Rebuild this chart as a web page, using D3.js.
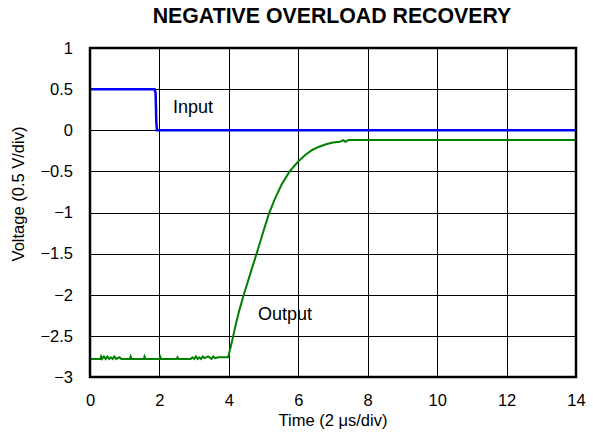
<!DOCTYPE html>
<html>
<head>
<meta charset="utf-8">
<script src="https://cdn.jsdelivr.net/npm/d3@7"></script>
<style>
  body { margin: 0; background: #fff; }
  svg { font-family: "Liberation Sans", Arial, sans-serif; }
  .grid line { stroke: #000; stroke-width: 1; shape-rendering: crispEdges; }
  .tick text { fill: #000; }
</style>
</head>
<body>
<div id="chart"></div>
<script>
// tick values shown on the axes
const X_TICKS = [0, 2, 4, 6, 8, 10, 12, 14];
const Y_TICKS = [1, 0.5, 0, -0.5, -1, -1.5, -2, -2.5, -3];

// input step (time, volts)
const inputT = [0, 1.86, 1.89, 1.91, 1.93, 14];
const inputV = [0.5, 0.5, 0.45, 0.1, 0, 0];

// output recovery (time, volts)
const outputT = [0, 0.3, 0.32, 0.35, 0.4, 0.45, 0.5, 0.55, 0.6, 0.65, 0.7, 0.75, 0.85, 0.9,
  1.15, 1.17, 1.2, 1.55, 1.57, 1.6, 2.0, 2.02, 2.05, 2.5, 2.52, 2.55, 2.9, 2.95, 3.0, 3.05,
  3.1, 3.15, 3.2, 3.25, 3.3, 3.4, 3.5, 3.55, 3.6, 3.7, 3.8, 3.9, 3.98,
  4.1, 4.2, 4.3, 4.43, 4.62, 4.8, 4.98, 5.15, 5.32, 5.52, 5.75, 6.0, 6.2, 6.4, 6.6, 6.8, 7.0,
  7.2, 7.3, 7.35, 7.45, 14];
const outputV = [-2.78, -2.78, -2.75, -2.78, -2.75, -2.78, -2.75, -2.78, -2.76, -2.78, -2.75, -2.78, -2.76, -2.78,
  -2.78, -2.75, -2.78, -2.78, -2.75, -2.78, -2.78, -2.75, -2.78, -2.78, -2.76, -2.78, -2.78, -2.76, -2.78, -2.75,
  -2.78, -2.76, -2.78, -2.75, -2.77, -2.75, -2.78, -2.75, -2.77, -2.76, -2.76, -2.76, -2.76,
  -2.55, -2.36, -2.19, -2.0, -1.74, -1.5, -1.25, -1.02, -0.84, -0.66, -0.5, -0.38, -0.3, -0.24, -0.2, -0.17, -0.15,
  -0.14, -0.12, -0.14, -0.12, -0.12];

const W = 593, H = 445;
const margin = {top: 48, right: 17, bottom: 68, left: 90};
const iw = W - margin.left - margin.right;
const ih = H - margin.top - margin.bottom;

const svg = d3.select("#chart").append("svg")
    .attr("width", W)
    .attr("height", H);

const x = d3.scaleLinear().domain([0, 14]).range([0, iw]);
const y = d3.scaleLinear().domain([-3, 1]).range([ih, 0]);
const fmt = (d) => (d < 0 ? "\u2212" + Math.abs(d) : String(d));

const g = svg.append("g").attr("transform", "translate(" + margin.left + "," + margin.top + ")");

// grid
const grid = g.append("g").classed("grid", true);
grid.selectAll("line.v")
    .data(X_TICKS.slice(1, -1))
    .enter().append("line")
    .attr("x1", (d) => Math.round(x(d)) + 0.5).attr("x2", (d) => Math.round(x(d)) + 0.5)
    .attr("y1", 0).attr("y2", ih);
grid.selectAll("line.h")
    .data(Y_TICKS.slice(1, -1))
    .enter().append("line")
    .attr("y1", (d) => Math.round(y(d)) + 0.5).attr("y2", (d) => Math.round(y(d)) + 0.5)
    .attr("x1", 0).attr("x2", iw);

// axes (labels only)
g.append("g")
    .attr("transform", "translate(0," + ih + ")")
    .call(d3.axisBottom(x).tickValues(X_TICKS).tickSize(0).tickPadding(17).tickFormat(fmt))
    .call((a) => a.select(".domain").remove())
    .selectAll("text").style("font-size", "16.5px");
g.append("g")
    .call(d3.axisLeft(y).tickValues(Y_TICKS).tickSize(0).tickPadding(17).tickFormat(fmt))
    .call((a) => a.select(".domain").remove())
    .selectAll("text").style("font-size", "16.5px");

// traces
const line = d3.line().x((d) => x(d[0])).y((d) => y(d[1]));
g.append("path")
    .datum(inputT.map((t, i) => [t, inputV[i]]))
    .attr("fill", "none").attr("stroke", "#0000ff").attr("stroke-width", 2.5)
    .attr("d", line);
g.append("path")
    .datum(outputT.map((t, i) => [t, outputV[i]]))
    .attr("fill", "none").attr("stroke", "#008000").attr("stroke-width", 2)
    .attr("d", line);

// frame
g.append("rect")
    .attr("width", iw).attr("height", ih)
    .attr("fill", "none").attr("stroke", "#000").attr("stroke-width", 2.5);

// annotations
g.append("text").attr("x", x(2.39)).attr("y", y(0.21)).style("font-size", "18px").text("Input");
g.append("text").attr("x", x(4.84)).attr("y", y(-2.31)).style("font-size", "18px").text("Output");

// titles
svg.append("text")
    .attr("x", 332).attr("y", 23)
    .attr("text-anchor", "middle")
    .style("font-size", "21.3px").style("font-weight", "bold")
    .text("NEGATIVE OVERLOAD RECOVERY");
svg.append("text")
    .attr("x", 333).attr("y", 426)
    .attr("text-anchor", "middle")
    .style("font-size", "16.5px")
    .text("Time (2 \u03bcs/div)");
svg.append("text")
    .attr("transform", "translate(24,194) rotate(-90)")
    .attr("text-anchor", "middle")
    .style("font-size", "16.5px")
    .text("Voltage (0.5 V/div)");
</script>
</body>
</html>
